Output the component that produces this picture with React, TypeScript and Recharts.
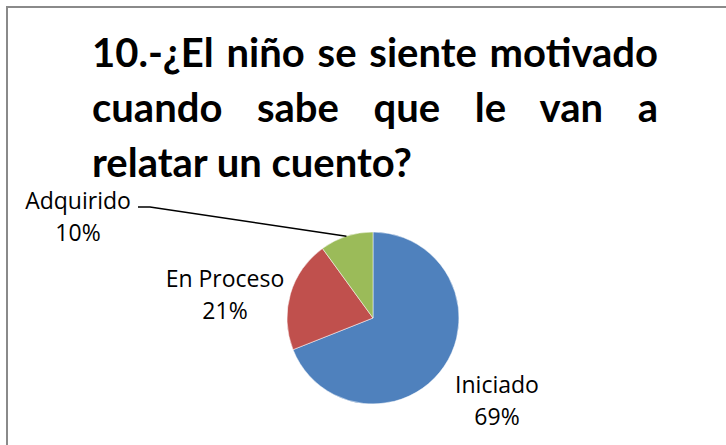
import React from "react";
import { PieChart, Pie, Cell } from "recharts";

const categories = ["Iniciado", "En Proceso", "Adquirido"];
const percents = [69, 21, 10];
const colors = ["#4F81BD", "#C0504D", "#9BBB59"];
const titleLines = [
  "10.-¿El niño se siente motivado",
  "cuando sabe que le van a",
  "relatar un cuento?",
];

const data = categories.map((name, i) => ({ name, value: percents[i] }));

// label centre offsets from pie centre (Excel "best fit" placement)
const labelOffsets = [
  [124, 82],
  [-148, -24],
  [-295, -102],
];

const RADIAN = Math.PI / 180;

const renderLabel = (props: any) => {
  const { cx, cy, outerRadius, midAngle, index, name, value } = props;
  const [dx, dy] = labelOffsets[index];
  const x = cx + dx;
  const y = cy + dy;
  let leader = null;
  if (index === 2) {
    const ex = cx + outerRadius * Math.cos(-midAngle * RADIAN);
    const ey = cy + outerRadius * Math.sin(-midAngle * RADIAN);
    leader = (
      <polyline
        points={`${x + 60},${y - 9} ${x + 72},${y - 9} ${ex},${ey}`}
        fill="none"
        stroke="#000"
        strokeWidth={1.5}
      />
    );
  }
  return (
    <g>
      {leader}
      <text
        x={x}
        y={y - 16}
        textAnchor="middle"
        dominantBaseline="central"
        fill="#000"
        fontSize={23}
        fontFamily="'Open Sans', sans-serif"
      >
        {name}
      </text>
      <text
        x={x}
        y={y + 16}
        textAnchor="middle"
        dominantBaseline="central"
        fill="#000"
        fontSize={23}
        fontFamily="'Open Sans', sans-serif"
      >
        {value}%
      </text>
    </g>
  );
};

const App = () => {
  return (
    <div
      style={{
        position: "absolute",
        left: 0,
        top: 0,
        width: 726,
        height: 445,
        background: "#fff",
        overflow: "hidden",
      }}
    >
      <div
        style={{
          position: "absolute",
          left: 6,
          top: 6,
          width: 740,
          height: 460,
          border: "2px solid #8a8a8a",
        }}
      />
      <div
        style={{
          position: "absolute",
          left: 92,
          top: 25,
          width: 566,
          fontFamily: "Lato, sans-serif",
          fontWeight: 700,
          fontSize: 40,
          lineHeight: "55px",
          color: "#000",
        }}
      >
        {titleLines.map((t, i) => (
          <div
            key={i}
            style={{
              whiteSpace: "nowrap",
              textAlign: "justify",
              textAlignLast: i < titleLines.length - 1 ? "justify" : "left",
            }}
          >
            {t}
          </div>
        ))}
      </div>
      <div style={{ position: "absolute", left: 0, top: 0 }}>
        <PieChart
          width={726}
          height={445}
          margin={{ top: 0, right: 0, bottom: 0, left: 0 }}
        >
          <Pie
            data={data}
            dataKey="value"
            nameKey="name"
            cx={373}
            cy={318}
            outerRadius={86}
            startAngle={90}
            endAngle={-270}
            stroke="#fff"
            strokeWidth={0.5}
            label={renderLabel}
            labelLine={false}
            isAnimationActive={false}
          >
            {data.map((d, i) => (
              <Cell key={d.name} fill={colors[i]} />
            ))}
          </Pie>
        </PieChart>
      </div>
    </div>
  );
};

export default App;
